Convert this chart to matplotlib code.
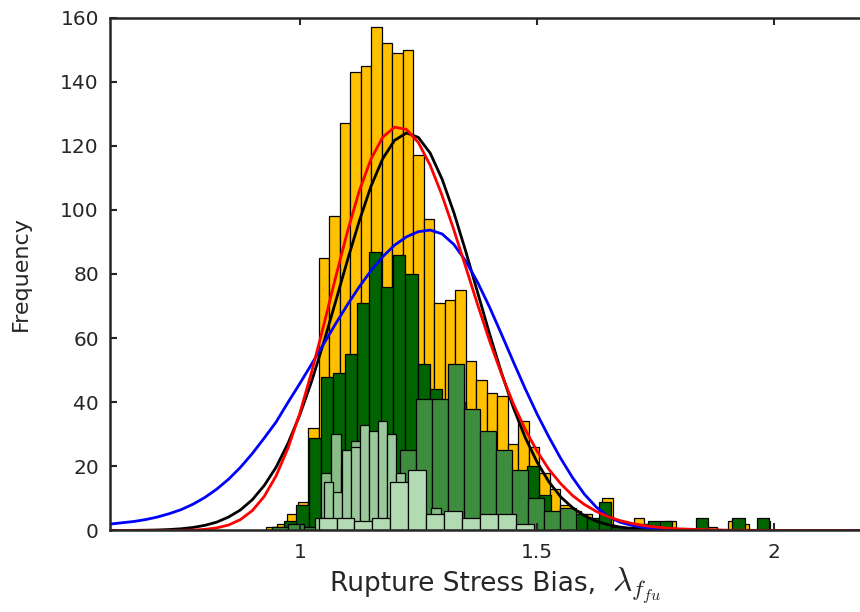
import numpy as np
import matplotlib
matplotlib.use('Agg')
import matplotlib.pyplot as plt

plt.rcParams['font.family'] = ['DejaVu Sans']
plt.rcParams['mathtext.fontset'] = 'cm'

# histogram counts (left to right), each set has its own bins
orange_counts = [1, 2, 5, 9, 32, 85, 98, 127, 143, 145, 157, 152, 149, 150, 117, 97,
                 71, 72, 75, 53, 47, 43, 42, 27, 34, 26, 18, 13, 8, 6, 5, 3, 10, 1, 0,
                 4, 2, 2, 3, 0, 0, 2, 1, 0, 3, 2, 0, 3]
orange_bins = (0.9294, 0.02212)   # first edge, bin width

dark_counts = [1, 3, 8, 29, 48, 49, 55, 71, 87, 76, 86, 80, 52, 44, 38, 40, 30, 26,
               22, 17, 15, 20, 11, 5, 5, 5, 4, 9, 1, 1, 2, 3, 3, 0, 0, 4, 0, 0, 4, 0, 4]
dark_bins = (0.9420, 0.02553)

mid_counts = [1, 2, 1, 3, 3, 3, 3, 3, 25, 41, 41, 52, 38, 31, 25, 19, 10, 6, 7]
mid_bins = (0.9424, 0.03372)

pale1_counts = [18, 30, 20, 28, 30, 28, 25, 15, 12, 10, 4, 7, 3]
pale1_bins = (1.0448, 0.02111)

pale2_counts = [4, 15, 12, 25, 26, 33, 31, 34, 30, 18]
pale2_bins = (1.0313, 0.01900)

light_counts = [4, 4, 3, 4, 15, 19, 5, 6, 4, 5, 5, 2]
light_bins = (1.0397, 0.03780)

# fitted curves, points
curve_x = [0.600, 0.625, 0.650, 0.675, 0.700, 0.725, 0.750, 0.775, 0.800, 0.825,
           0.850, 0.875, 0.900, 0.925, 0.950, 0.975, 1.000, 1.025, 1.050, 1.075,
           1.100, 1.125, 1.150, 1.175, 1.200, 1.225, 1.250, 1.275, 1.300, 1.325,
           1.350, 1.375, 1.400, 1.425, 1.450, 1.475, 1.500, 1.525, 1.550, 1.575,
           1.600, 1.625, 1.650, 1.675, 1.700, 1.725, 1.750, 1.775, 1.800, 1.850,
           1.900, 2.000, 2.200]
black_y = [0.0, 0.02, 0.04, 0.09, 0.16, 0.30, 0.54, 0.94, 1.6, 2.6,
           4.2, 6.4, 9.6, 14.0, 19.7, 27.1, 36.0, 46.5, 58.4, 71.1,
           84.0, 96.3, 107.3, 116.0, 121.7, 124.0, 122.6, 117.7, 109.6, 99.1,
           87.0, 74.2, 61.4, 49.3, 38.4, 29.1, 21.4, 15.2, 10.5, 7.1,
           4.6, 2.9, 1.8, 1.07, 0.6, 0.35, 0.2, 0.1, 0.05, 0.01,
           0.0, 0.0, 0.0]
red_y = [0.0, 0.0, 0.0, 0.0, 0.0, 0.01, 0.05, 0.13, 0.35, 0.81,
         1.7, 3.4, 6.2, 10.6, 17.0, 25.6, 36.5, 49.4, 63.7, 78.6,
         92.9, 105.7, 115.8, 122.7, 125.8, 125.1, 121.0, 113.9, 104.5, 93.7,
         82.1, 70.4, 59.2, 48.9, 39.6, 31.6, 24.8, 19.1, 14.6, 10.9,
         8.1, 5.95, 4.3, 3.09, 2.2, 1.54, 1.1, 0.74, 0.5, 0.25,
         0.1, 0.02, 0.0]
blue_y = [2.0, 2.4, 2.8, 3.4, 4.2, 5.25, 6.5, 8.2, 10.3, 12.9,
          16.0, 19.7, 24.0, 28.8, 33.8, 39.9, 45.8, 51.9, 58.1, 64.3,
          70.3, 75.9, 81.0, 85.4, 89.0, 91.6, 93.2, 93.7, 92.5, 89.2,
          84.0, 77.4, 69.7, 61.3, 52.7, 44.3, 36.4, 29.2, 22.5, 16.5,
          11.3, 7.3, 4.3, 2.6, 1.6, 1.0, 0.6, 0.35, 0.2, 0.1,
          0.02, 0.0, 0.0]

fig = plt.figure(figsize=(8.6, 6.12), dpi=100)
ax = fig.add_axes([0.1279, 0.1332, 0.8826, 0.8382])


def draw_hist(counts, bins, color):
    start, width = bins
    left = start + width * np.arange(len(counts))
    ax.bar(left, counts, width=width, align='edge', color=color,
           edgecolor='black', linewidth=0.9)


draw_hist(orange_counts, orange_bins, '#FFC000')
draw_hist(dark_counts, dark_bins, '#006400')
draw_hist(mid_counts, mid_bins, '#3E8C3E')
draw_hist(pale1_counts, pale1_bins, '#88BD88')
draw_hist(pale2_counts, pale2_bins, '#9BC99B')
draw_hist(light_counts, light_bins, '#B3DBB3')

ax.plot(curve_x, black_y, color='black', linewidth=2, solid_joinstyle='round')
ax.plot(curve_x, blue_y, color='#0000FF', linewidth=2, solid_joinstyle='round')
ax.plot(curve_x, red_y, color='#FF0000', linewidth=2, solid_joinstyle='round')

ax.set_xlim(0.6, 2.2)
ax.set_ylim(0, 160)
ax.set_xticks([1, 1.5, 2])
ax.set_xticklabels(['1', '1.5', '2'])
ax.set_yticks(range(0, 161, 20))

for s in ax.spines.values():
    s.set_linewidth(1.8)
    s.set_color('#262626')
ax.tick_params(direction='in', length=5, width=1.5, top=True, right=True,
               labelsize=14.5, colors='#262626')
ax.tick_params(axis='x', pad=9)
ax.tick_params(axis='y', pad=8)

# x label: plain words plus a larger lambda symbol, as in the original
fig.text(596 / 860, 21 / 612, 'Rupture Stress Bias,', fontsize=19,
         color='#262626', ha='right', va='baseline')
fig.text(612 / 860, 21 / 612, r'$\lambda_{f_{fu}}$', fontsize=24,
         color='#262626', ha='left', va='baseline')
ax.set_ylabel('Frequency', fontsize=16, color='#262626', labelpad=21)

fig.savefig('out.png', dpi=100)
